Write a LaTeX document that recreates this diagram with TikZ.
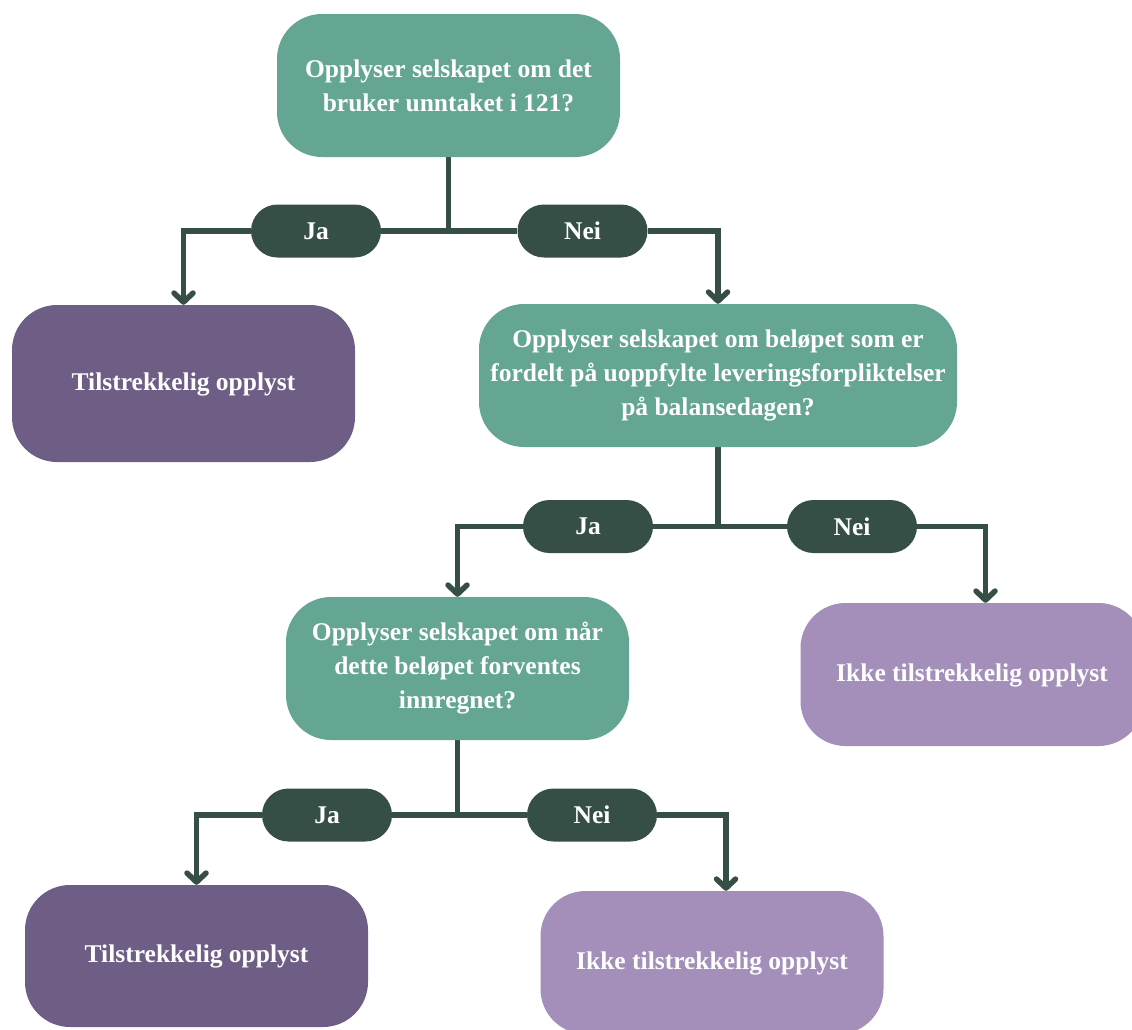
\documentclass[tikz,border=0pt]{standalone}
\usepackage{fontspec}
\setmainfont{Liberation Serif}
\usetikzlibrary{arrows.meta,backgrounds}
\definecolor{qteal}{HTML}{64A693}
\definecolor{linkgreen}{HTML}{354F47}
\definecolor{okpurple}{HTML}{6E5E85}
\definecolor{nopurple}{HTML}{A48FBB}

\begin{document}
\begin{tikzpicture}[x=1pt,y=-1pt,
  box/.style={rectangle, rounded corners=45pt, inner sep=0pt, align=center,
    text=white, font=\fontsize{25.5}{34}\selectfont\bfseries},
  question/.style={box, fill=qteal, minimum height=143pt},
  okbox/.style={box, fill=okpurple, minimum width=343pt, text depth=4pt},
  nobox/.style={box, fill=nopurple, minimum width=343pt, minimum height=143pt, text depth=4pt},
  pill/.style={rectangle, rounded corners=26.5pt, fill=linkgreen, text=white,
    minimum width=130pt, minimum height=53pt, inner sep=0pt,
    font=\fontsize{25.5}{30}\selectfont\bfseries},
  link/.style={draw=linkgreen, line width=5.5pt},
  arrowlink/.style={link, -{Straight Barb[length=9pt,width=19pt,round]}}
]
\useasboundingbox (0,0) rectangle (1132,1029);
\clip (0,0) rectangle (1132,1029);

% decision boxes
\node[question, minimum width=343pt] (q1) at (448.5,85.5)
  {Opplyser selskapet om det\\bruker unntaket i 121?};
\node[question, minimum width=478pt] (q2) at (718,375.5)
  {Opplyser selskapet om beløpet som er\\fordelt på uoppfylte leveringsforpliktelser\\på balansedagen?};
\node[question, minimum width=343pt] (q3) at (457.5,668.5)
  {Opplyser selskapet om når\\dette beløpet forventes\\innregnet?};

% outcome boxes
\node[okbox, minimum height=157pt] (leaf1) at (183.5,383.5) {Tilstrekkelig opplyst};
\node[nobox] (leaf2) at (972,674.5) {Ikke tilstrekkelig opplyst};
\node[okbox, minimum height=142pt] (leaf3) at (196.5,956) {Tilstrekkelig opplyst};
\node[nobox] (leaf4) at (712,962.5) {Ikke tilstrekkelig opplyst};

% answer labels
\node[pill] (ja1)  at (316,231)   {Ja};
\node[pill] (nei1) at (582.5,231) {Nei};
\node[pill] (ja2)  at (588,526.5) {Ja};
\node[pill] (nei2) at (852,526.5) {Nei};
\node[pill] (ja3)  at (327,815)   {Ja};
\node[pill] (nei3) at (592,815)   {Nei};

% connectors, behind the labels
\begin{scope}[on background layer]
\draw[link] (q1.south) |- (ja1.east);
\draw[link] (q1.south) |- (nei1.west);
\draw[arrowlink] (ja1.west) -| (leaf1.north);
\draw[arrowlink] (nei1.east) -| (q2.north);

\draw[link] (q2.south) |- (ja2.east);
\draw[link] (q2.south) |- (nei2.west);
\draw[arrowlink] (ja2.west) -| (q3.north);
\draw[arrowlink] (nei2.east) -| ([xshift=13.5pt]leaf2.north);

\draw[link] (q3.south) |- (ja3.east);
\draw[link] (q3.south) |- (nei3.west);
\draw[arrowlink] (ja3.west) -| (leaf3.north);
\draw[arrowlink] (nei3.east) -| ([xshift=14pt]leaf4.north);
\end{scope}
\end{tikzpicture}
\end{document}
